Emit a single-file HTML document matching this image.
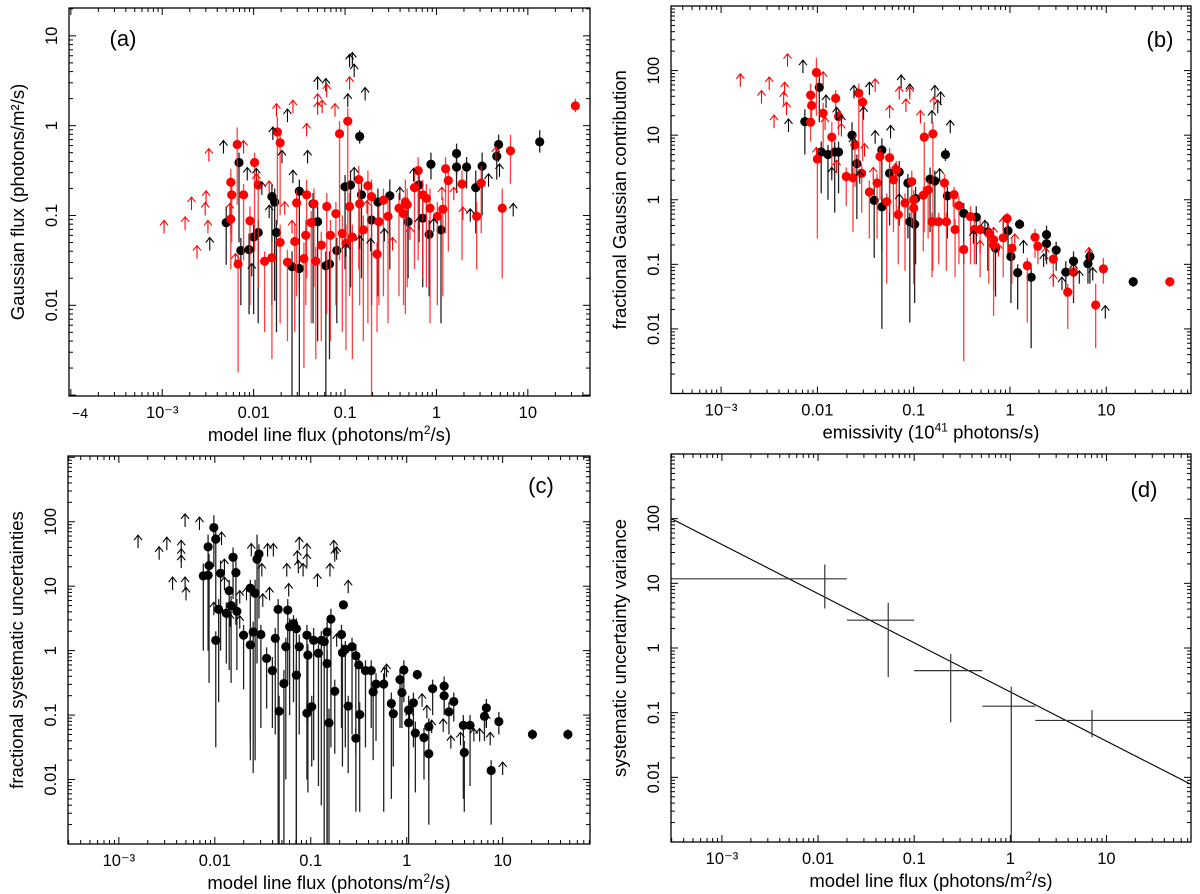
<!DOCTYPE html>
<html><head><meta charset="utf-8"><style>
html,body{margin:0;padding:0;background:#fff;}
svg{display:block;font-family:"Liberation Sans",Arial,sans-serif;}
</style></head><body>
<svg id="fig" width="1200" height="894" viewBox="0 0 1200 894" xmlns="http://www.w3.org/2000/svg"></svg>
<script>
// All values are log10 units: [x, y, yLow, yHigh]
const aRedDots = [[-2.18,-0.21,-0.88,-0.02],[-2.25,-0.63,-1.2,-0.48],[-2.24,-0.77,-1.3,-0.6],[-2.25,-1.04,-1.6,-0.9],[-2.11,-0.77,-1.5,-0.65],[-2.17,-1.54,-2.75,-1.42],[-1.99,-0.41,-1.4,-0.3],[-1.95,-0.66,-1.8,-0.52],[-2.04,-1.06,-2.0,-0.9],[-1.88,-1.51,-2.3,-1.4],[-1.80,-1.47,-2.6,-1.3],[-1.74,-0.07,-1.1,0.1],[-1.71,-0.19,-1.0,-0.05],[-1.71,-1.30,-2.2,-1.1],[-1.63,-1.52,-2.4,-1.38],[-1.55,-1.29,-2.3,-1.1],[-1.53,-0.86,-1.9,-0.72],[-1.45,-1.48,-2.7,-1.3],[-1.42,-0.77,-1.7,-0.6],[-1.43,-1.22,-2.0,-1.05],[-1.37,-1.08,-2.2,-0.95],[-1.34,-0.87,-1.8,-0.7],[-1.32,-1.51,-2.6,-1.35],[-1.26,-1.33,-2.4,-1.18],[-1.20,-0.90,-2.1,-0.75],[-1.16,-1.22,-2.4,-1.05],[-1.10,-0.98,-2.0,-0.85],[-1.06,-0.09,-1.5,0.05],[-1.03,-1.20,-2.3,-1.0],[-0.99,-1.31,-2.5,-1.1],[-0.97,0.05,-1.3,0.2],[-0.95,-0.90,-1.9,-0.75],[-0.92,-1.24,-2.6,-1.1],[-0.85,-0.60,-1.6,-0.45],[-0.84,-0.87,-2.0,-0.7],[-0.80,-1.16,-2.4,-1.0],[-0.75,-0.67,-2.2,-0.5],[-0.71,-0.79,-3.1,-0.6],[-0.65,-1.43,-2.3,-1.3],[-0.63,-1.07,-2.0,-0.9],[-0.58,-0.83,-1.9,-0.7],[-0.53,-1.01,-2.2,-0.8],[-0.41,-0.92,-1.9,-0.75],[-0.36,-0.98,-2.0,-0.8],[-0.32,-0.88,-1.8,-0.7],[-0.24,-0.69,-1.6,-0.5],[-0.20,-0.50,-1.5,-0.35],[-0.15,-0.77,-1.7,-0.6],[-0.11,-0.81,-1.8,-0.65],[0.01,-1.01,-2.0,-0.85],[0.07,-0.93,-1.9,-0.8],[0.10,-0.48,-1.2,-0.35],[0.13,-0.61,-1.4,-0.45],[0.28,-0.65,-1.5,-0.5],[0.44,-1.01,-1.6,-0.85],[0.49,-0.64,-1.2,-0.45],[0.72,-0.92,-1.7,-0.7],[0.81,-0.28,-0.65,-0.1],[1.52,0.22,0.15,0.3],[-0.34,-0.85,-2.1,-0.6],[-0.07,-0.92,-2.2,-0.7]];
const aBlackDots = [[-2.30,-1.08,-1.55,-0.9],[-2.16,-0.41,-1.3,-0.3],[-2.14,-1.39,-2.0,-1.25],[-2.05,-1.38,-2.1,-1.2],[-2.0,-1.24,-2.1,-1.1],[-1.95,-1.19,-2.2,-1.05],[-1.80,-0.79,-2.0,-0.65],[-1.77,-0.85,-1.95,-0.7],[-1.75,-1.19,-2.3,-1.05],[-1.58,-1.57,-3.2,-1.4],[-1.50,-0.73,-1.8,-0.6],[-1.50,-1.59,-3.1,-1.45],[-1.35,-0.87,-2.2,-0.75],[-1.30,-1.07,-2.4,-0.9],[-1.21,-1.56,-3.1,-1.4],[-1.17,-1.54,-2.6,-1.4],[-1.09,-1.39,-2.2,-1.25],[-1.0,-0.68,-1.6,-0.55],[-0.94,-0.66,-1.8,-0.5],[-0.84,-0.12,-0.2,-0.05],[-0.82,-0.77,-1.7,-0.6],[-0.71,-1.05,-2.0,-0.9],[-0.64,-0.85,-1.9,-0.7],[-0.51,-0.78,-1.6,-0.6],[-0.31,-1.07,-1.7,-0.9],[-0.19,-0.66,-1.3,-0.5],[-0.15,-1.03,-1.8,-0.85],[-0.08,-1.21,-1.9,-1.05],[-0.06,-0.43,-0.6,-0.3],[0.05,-1.16,-2.2,-1.0],[0.22,-0.31,-0.55,-0.2],[0.22,-0.46,-0.75,-0.3],[0.33,-0.46,-0.7,-0.35],[0.43,-0.69,-1.2,-0.5],[0.50,-0.45,-1.0,-0.3],[0.66,-0.34,-0.6,-0.2],[0.68,-0.21,-0.4,-0.1],[1.13,-0.18,-0.3,-0.05]];
const aRedArrows = [[-2.98,-1.20],[-2.75,-1.16],[-2.68,-0.94],[-2.62,-1.48],[-2.53,-1.0],[-2.52,-0.87],[-2.50,-1.20],[-2.49,-0.40],[-2.26,-1.01],[-2.20,-1.57],[-2.11,-0.31],[-1.97,-0.68],[-1.75,0.10],[-1.57,0.14],[-1.42,-0.12],[-1.30,0.21],[-1.30,0.12],[-1.25,0.14],[-1.20,0.32],[-1.11,0.10],[-0.95,0.40],[-1.66,-0.99],[-1.58,-1.20],[-0.48,-1.39],[0.19,-0.83],[0.29,-1.05],[0.65,-0.38],[-0.29,-1.27],[-0.76,-0.98],[-1.83,-0.76],[0.06,-0.83]];
const aBlackArrows = [[-2.48,-1.39],[-2.33,-0.31],[-2.07,-0.61],[-2.02,-1.68],[-1.97,-0.62],[-1.91,-0.77],[-1.79,-0.16],[-1.69,-0.42],[-1.63,0.04],[-1.57,-0.64],[-1.41,-0.42],[-1.30,0.40],[-1.21,0.38],[-0.97,0.21],[-0.95,0.65],[-0.92,0.67],[-0.90,0.54],[-0.78,0.28],[-0.90,-0.61],[-0.84,-1.37],[-0.72,-1.40],[-0.57,-1.29],[-0.40,-0.83],[-0.19,-1.16],[-0.03,-1.18],[0.37,-1.07],[0.57,-0.68],[0.69,-0.57],[0.84,-1.01],[-0.25,-0.62],[-0.99,-1.46],[-1.83,-1.03]];

const bRedDots = [[-2.01,1.97,1.3,2.2],[-2.07,1.62,1.4,1.8],[-2.06,1.46,1.2,1.6],[-2.07,1.20,0.9,1.4],[-1.94,1.34,0.8,1.5],[-1.81,1.57,1.3,1.7],[-1.78,1.29,1.0,1.4],[-1.85,0.97,0.4,1.2],[-2.0,0.63,-0.6,0.8],[-1.57,1.65,0.5,1.8],[-1.53,1.51,0.6,1.6],[-1.61,0.85,0.2,1.0],[-1.70,0.36,-0.1,0.5],[-1.63,0.34,-0.5,0.5],[-1.54,0.41,-0.2,0.55],[-1.46,0.12,-0.6,0.3],[-1.38,0.26,-0.6,0.4],[-1.35,0.67,0.0,0.8],[-1.25,0.65,-0.2,0.8],[-1.28,-0.03,-1.3,0.1],[-1.18,0.46,-0.3,0.6],[-1.16,-0.23,-1.0,-0.1],[-1.09,-0.05,-1.1,0.1],[-1.02,0.28,-0.4,0.45],[-1.0,-0.13,-1.3,0.0],[-0.89,0.97,-0.5,1.2],[-0.80,1.02,-1.1,1.2],[-0.90,0.07,-0.8,0.2],[-0.85,0.15,-0.6,0.3],[-0.81,-0.34,-1.2,-0.2],[-0.74,-0.34,-1.0,-0.2],[-0.68,0.26,-0.3,0.4],[-0.66,-0.34,-1.1,-0.2],[-0.58,0.08,-0.5,0.2],[-0.53,-0.09,-1.0,0.05],[-0.57,-0.46,-1.2,-0.3],[-0.48,-0.77,-2.5,-0.65],[-0.41,-0.26,-1.0,-0.1],[-0.37,-0.46,-1.0,-0.3],[-0.22,-0.52,-1.3,-0.4],[-0.17,-0.62,-1.4,-0.5],[-0.03,-0.29,-0.6,-0.2],[-0.07,-0.59,-1.2,-0.45],[0.02,-0.75,-1.3,-0.6],[0.18,-1.02,-1.9,-0.9],[0.26,-0.58,-0.9,-0.45],[0.29,-0.72,-1.0,-0.6],[0.45,-0.92,-1.3,-0.8],[0.60,-1.43,-2.0,-1.3],[0.66,-1.12,-1.5,-1.0],[0.89,-1.63,-2.3,-1.3],[0.97,-1.07,-1.3,-0.9],[-1.21,0.31,-0.5,0.45],[-1.0,0.0,-1.0,0.15],[-0.17,-0.70,-1.8,-0.6],[-0.31,-0.46,-1.2,-0.3],[1.66,-1.27,-1.35,-1.2]];
const bBlackDots = [[-2.13,1.21,0.7,1.4],[-1.98,1.74,1.2,1.9],[-1.96,0.74,0.1,0.9],[-1.89,0.70,0.0,0.85],[-1.82,0.74,-0.2,0.9],[-1.78,0.74,0.1,0.9],[-1.64,1.0,0.4,1.2],[-1.59,0.56,-0.3,0.7],[-1.41,-0.01,-0.9,0.2],[-1.33,0.77,-0.8,0.95],[-1.33,-0.11,-2.0,0.05],[-1.25,0.41,-0.4,0.55],[-1.15,0.43,-0.4,0.6],[-1.06,0.26,-0.6,0.4],[-1.04,-0.34,-1.9,-0.2],[-0.99,-0.38,-1.6,-0.2],[-0.98,0.02,-1.0,0.2],[-0.83,0.32,-0.5,0.5],[-0.78,0.29,-0.4,0.45],[-0.67,0.70,0.6,0.8],[-0.65,0.06,-0.6,0.2],[-0.48,-0.21,-1.0,-0.05],[-0.35,-0.27,-1.0,-0.1],[-0.23,-0.50,-1.1,-0.35],[-0.15,-0.75,-1.5,-0.6],[-0.02,-0.48,-0.9,-0.3],[0.01,-0.88,-1.6,-0.7],[0.08,-1.13,-1.7,-1.0],[0.10,-0.38,-0.45,-0.3],[0.22,-1.20,-2.3,-1.05],[0.38,-0.54,-0.8,-0.4],[0.38,-0.68,-1.0,-0.55],[0.48,-0.78,-1.1,-0.65],[0.58,-1.12,-1.5,-0.95],[0.66,-0.95,-1.6,-0.8],[0.81,-0.99,-1.3,-0.8],[0.83,-0.88,-1.3,-0.75],[1.28,-1.27,-1.35,-1.2]];
const bRedArrows = [[-2.80,1.75],[-2.58,1.49],[-2.50,1.70],[-2.45,1.11],[-2.35,1.47],[-2.34,1.62],[-2.31,2.06],[-2.32,1.31],[-1.94,1.78],[-1.92,1.08],[-1.75,0.98],[-1.40,1.67],[-1.25,1.26],[-1.15,1.55],[-1.08,1.36],[-1.04,1.55],[-0.93,1.18],[-0.79,1.39],[-2.01,0.61],[-1.80,0.41],[-1.51,0.67],[-1.42,0.30],[-1.19,0.36],[-0.59,-0.11],[-0.31,-0.83],[-0.12,-0.88],[0.05,-0.73],[0.37,-0.94],[0.45,-1.35],[0.82,-0.94],[-0.17,-0.63],[-0.07,-0.47]];
const bBlackArrows = [[-2.15,1.96],[-2.30,1.05],[-1.91,1.42],[-1.80,1.23],[-1.75,1.11],[-1.62,1.57],[-1.52,1.24],[-1.46,1.62],[-1.40,0.87],[-1.24,0.95],[-1.13,1.73],[-1.04,1.59],[-0.81,1.18],[-0.78,1.57],[-0.75,1.34],[-0.72,1.47],[-0.62,1.03],[-1.63,0.77],[-1.56,0.25],[-1.85,0.30],[-0.73,0.28],[-0.38,-0.68],[-0.26,-0.52],[-0.07,-0.47],[0.14,-0.83],[0.35,-1.04],[0.54,-1.40],[0.72,-1.30],[0.86,-1.25],[0.99,-1.84],[0.66,-1.19],[-1.15,-0.11]];

const cDots = [[-2.01,1.91,1.3,2.1],[-1.99,1.73,0.6,1.9],[-2.07,1.61,0.0,1.8],[-2.06,1.32,-0.5,1.5],[-2.12,1.16,0.0,1.35],[-2.07,1.17,0.2,1.35],[-1.99,0.16,-1.5,0.3],[-1.96,0.64,-0.8,0.8],[-1.94,1.20,0.0,1.4],[-1.88,0.58,-0.2,0.75],[-1.85,0.93,-0.3,1.1],[-1.83,0.70,-0.5,0.85],[-1.81,1.45,0.8,1.6],[-1.78,1.21,0.4,1.4],[-1.77,0.61,-0.3,0.8],[-1.70,0.24,-0.6,0.4],[-1.63,0.97,-1.4,1.1],[-1.63,0.09,-1.7,0.3],[-1.60,0.29,-1.9,0.45],[-1.58,0.89,-1.7,1.1],[-1.56,1.42,-0.2,1.8],[-1.54,1.50,0.5,1.65],[-1.52,0.25,-1.2,0.4],[-1.46,-0.12,-0.9,0.05],[-1.40,-0.31,-1.2,-0.1],[-1.37,0.19,-1.3,0.35],[-1.34,0.64,-3.0,0.8],[-1.33,-0.94,-3.0,-0.7],[-1.28,-0.51,-3.0,-0.3],[-1.26,0.06,-2.0,0.2],[-1.24,0.63,-0.5,0.8],[-1.22,0.37,-1.0,0.5],[-1.18,0.42,-0.8,0.55],[-1.15,0.34,-3.0,0.5],[-1.15,-0.38,-3.0,-0.2],[-1.12,0.06,-1.3,0.25],[-1.04,0.24,-1.1,0.4],[-1.04,-0.97,-2.0,-0.8],[-1.03,-0.07,-2.2,0.1],[-0.99,-0.87,-1.8,-0.7],[-0.97,0.16,-1.7,0.35],[-0.92,-0.04,-2.1,0.1],[-0.89,0.16,-2.4,0.3],[-0.86,0.14,-3.0,0.3],[-0.83,-0.20,-3.0,0.0],[-0.81,-1.12,-3.0,-0.9],[-0.79,0.49,-1.5,0.65],[-0.83,0.29,-3.0,0.45],[-0.75,-0.63,-1.6,-0.45],[-0.68,0.25,-1.2,0.4],[-0.67,-0.03,-1.8,0.1],[-0.66,0.71,0.65,0.77],[-0.64,0.02,-1.5,0.15],[-0.61,-0.86,-1.9,-0.7],[-0.57,0.06,-1.3,0.2],[-0.53,-1.36,-2.5,-1.2],[-0.53,-0.08,-1.6,0.1],[-0.50,-0.22,-1.3,-0.05],[-0.49,-0.99,-2.5,-0.8],[-0.43,-0.31,-1.5,-0.15],[-0.37,-0.31,-1.2,-0.15],[-0.35,-0.64,-1.7,-0.5],[-0.32,-0.52,-1.4,-0.35],[-0.24,-0.52,-2.5,-0.35],[-0.16,-0.82,-2.3,-0.65],[-0.14,-0.98,-1.8,-0.8],[-0.07,-0.45,-1.2,-0.3],[-0.05,-0.65,-1.2,-0.5],[-0.03,-0.30,-0.8,-0.15],[0.02,-0.92,-3.0,-0.7],[0.02,-1.12,-2.0,-0.95],[0.07,-0.81,-1.5,-0.65],[0.09,-1.28,-2.2,-1.1],[0.11,-0.37,-0.45,-0.3],[0.18,-1.35,-2.0,-1.2],[0.23,-1.60,-2.7,-1.45],[0.23,-1.18,-2.0,-1.05],[0.27,-0.59,-1.0,-0.45],[0.39,-0.55,-0.9,-0.4],[0.39,-0.70,-1.0,-0.55],[0.44,-0.95,-1.3,-0.8],[0.49,-0.79,-1.1,-0.65],[0.59,-1.16,-2.3,-1.0],[0.60,-1.58,-2.5,-1.4],[0.66,-1.16,-2.1,-1.0],[0.81,-1.02,-1.4,-0.85],[0.83,-0.89,-1.2,-0.75],[0.88,-1.86,-2.7,-1.7],[0.96,-1.10,-1.3,-0.95],[1.31,-1.30,-1.38,-1.22],[1.68,-1.30,-1.38,-1.22]];
const cArrows = [[-2.80,1.59],[-2.58,1.41],[-2.50,1.56],[-2.44,0.94],[-2.35,1.51],[-2.35,1.38],[-2.35,1.28],[-2.31,1.92],[-2.31,0.94],[-2.30,0.78],[-2.16,1.87],[-1.93,1.64],[-1.90,1.22],[-1.62,1.46],[-1.51,1.15],[-1.45,1.46],[-1.39,1.46],[-1.25,1.15],[-1.23,0.84],[-1.12,1.56],[-1.14,1.35],[-1.13,1.20],[-1.04,1.46],[-1.04,1.30],[-1.08,1.15],[-0.93,0.99],[-0.76,1.51],[-0.75,1.38],[-0.73,1.41],[-0.80,1.15],[-0.61,0.89],[-2.01,0.55],[-1.90,0.94],[-1.74,0.73],[-1.67,0.78],[-1.50,0.68],[-1.43,0.78],[-1.74,0.34],[-1.84,0.37],[-0.73,0.06],[-0.21,-0.41],[-0.23,-0.46],[0.16,-0.87],[0.21,-1.05],[0.26,-1.28],[0.38,-1.26],[0.46,-1.52],[0.56,-1.47],[0.70,-1.41],[0.76,-1.41],[0.83,-1.18],[0.87,-1.47],[1.0,-1.93],[0.03,-1.13]];

// panel d bins (log10)
const dBinX = [-1.93,-1.27,-0.62,0.01,0.85];
const dBinXLo = [-3.6,-1.70,-1.0,-0.29,0.26];
const dBinXHi = [-1.70,-1.0,-0.29,0.26,1.95];
const dBinY = [1.07,0.43,-0.35,-0.90,-1.12];
const dBinYLo = [0.61,-0.45,-1.15,-3.1,-1.38];
const dBinYHi = [1.29,0.70,-0.09,-0.60,-0.96];
const dFitIntercept = -0.68, dFitSlope = -0.76;

const xTickLabels = ["10\u207B\u00B3","0.01","0.1","1","10"];
const xTickLogs = [-3,-2,-1,0,1];
const yTickLabelsA = ["0.01","0.1","1","10"];
const yTickLogsA = [-2,-1,0,1];
const yTickLabelsB = ["0.01","0.1","1","10","100"];
const yTickLogsB = [-2,-1,0,1,2];

const NS = "http://www.w3.org/2000/svg";
const svg = document.getElementById("fig");
function mk(tag, attrs, parent){
  const e = document.createElementNS(NS, tag);
  for (const k in attrs) e.setAttribute(k, attrs[k]);
  (parent||svg).appendChild(e);
  return e;
}
function panel(P){
  P.sx = v => P.L + (v - P.xmin) / (P.xmax - P.xmin) * (P.R - P.L);
  P.sy = v => P.B - (v - P.ymin) / (P.ymax - P.ymin) * (P.B - P.T);
  const g = mk("g", {});
  
  
  P.g = g;
  const clip = mk("clipPath", {id: "clip-" + P.id}, g);
  mk("rect", {x: P.L, y: P.T, width: P.R - P.L, height: P.B - P.T}, clip);
  P.plot = mk("g", {"clip-path": "url(#clip-" + P.id + ")"}, g);
  
  
  const frame = mk("rect", {x: P.L, y: P.T, width: P.R - P.L, height: P.B - P.T, fill: "none", stroke: "#000", "stroke-width": 1.3}, g);
  
  
  const tk = mk("g", {stroke: "#000", "stroke-width": 1}, g);
  
  
  for (let d = Math.floor(P.xmin); d <= Math.ceil(P.xmax); d++) {
    for (let m = 1; m <= 9; m++) {
      const v = d + Math.log10(m);
      if (v < P.xmin || v > P.xmax) continue;
      const x = P.sx(v), len = m === 1 ? 7 : 4;
      mk("line", {x1: x, x2: x, y1: P.B, y2: P.B - len}, tk);
      mk("line", {x1: x, x2: x, y1: P.T, y2: P.T + len}, tk);
    }
  }
  for (let d = Math.floor(P.ymin); d <= Math.ceil(P.ymax); d++) {
    for (let m = 1; m <= 9; m++) {
      const v = d + Math.log10(m);
      if (v < P.ymin || v > P.ymax) continue;
      const y = P.sy(v), len = m === 1 ? 7 : 4;
      mk("line", {x1: P.L, x2: P.L + len, y1: y, y2: y}, tk);
      mk("line", {x1: P.R, x2: P.R - len, y1: y, y2: y}, tk);
    }
  }
  xTickLogs.forEach((v, i) => {
    const t = mk("text", {x: P.sx(v), y: P.B + 22, "font-size": 16.5, "text-anchor": "middle"}, g);
    t.textContent = xTickLabels[i];
    
    
  });
  P.yLogs.forEach((v, i) => {
    const x = P.L - 12, y = P.sy(v);
    const t = mk("text", {x: x, y: y, "font-size": 16.5, "text-anchor": "middle", transform: "rotate(-90 " + x + " " + y + ")"}, g);
    t.textContent = P.yLabels[i];
    
    
  });
  const xt = mk("text", {x: (P.L + P.R) / 2, y: P.B + 45, "font-size": 18.5, "text-anchor": "middle"}, g);
  xt.innerHTML = P.xTitle;
  
  
  const yx = P.L - 45, yy = (P.T + P.B) / 2;
  const yt = mk("text", {x: yx, y: yy, "font-size": 18.5, "text-anchor": "middle", transform: "rotate(-90 " + yx + " " + yy + ")"}, g);
  yt.textContent = P.yTitle;
  
  
  const pl = mk("text", {x: P.lx, y: P.ly, "font-size": 22, "text-anchor": "middle"}, g);
  pl.textContent = P.label;
  
  
  return P;
}
function dots(P, data, color, barColor, name){
  const g = mk("g", {}, P.plot);
  
  
  data.forEach(d => {
    const x = P.sx(d[0]);
    const bar = mk("line", {x1: x, x2: x, y1: P.sy(d[2]), y2: P.sy(d[3]), stroke: barColor, "stroke-width": 1.3}, g);
    
    
  });
  data.forEach(d => {
    const c = mk("circle", {cx: P.sx(d[0]), cy: P.sy(d[1]), r: 4.6, fill: color}, g);
    
    
  });
}
function arrows(P, data, color, name){
  const g = mk("g", {stroke: color, "stroke-width": 1.1, fill: "none"}, P.plot);
  
  
  data.forEach(d => {
    const x = P.sx(d[0]), y = P.sy(d[1]);
    const a = mk("path", {d: "M" + x + " " + y + "V" + (y - 13) + "M" + (x - 4) + " " + (y - 8) + "L" + x + " " + (y - 13) + "L" + (x + 4) + " " + (y - 8)}, g);
    
    
  });
}
const fluxTitle = 'model line flux (photons/m<tspan baseline-shift="super" font-size="12">2</tspan>/s)';
const A = panel({id: "a", name: "panel-a", L: 69, R: 590, T: 8, B: 396, xmin: -4.02, xmax: 1.68, ymin: -3.01, ymax: 1.31,
  yLogs: yTickLogsA, yLabels: yTickLabelsA, xTitle: fluxTitle, yTitle: "Gaussian flux (photons/m\u00B2/s)", label: "(a)", lx: 123, ly: 46});
const t4 = mk("text", {x: 80, y: 418, "font-size": 14, "text-anchor": "middle"}, A.g);
t4.textContent = "\u22124";


dots(A, aBlackDots, "#000", "#222", "black-points");
dots(A, aRedDots, "#f00", "rgba(255,30,30,0.85)", "red-points");
arrows(A, aBlackArrows, "#000", "black-lower-limits");
arrows(A, aRedArrows, "#f00", "red-lower-limits");

const Bp = panel({id: "b", name: "panel-b", L: 671, R: 1191, T: 6, B: 393.5, xmin: -3.52, xmax: 1.88, ymin: -3, ymax: 3,
  yLogs: yTickLogsB, yLabels: yTickLabelsB, xTitle: 'emissivity (10<tspan baseline-shift="super" font-size="12">41</tspan> photons/s)', yTitle: "fractional Gaussian contribution", label: "(b)", lx: 1160, ly: 47});
dots(Bp, bBlackDots, "#000", "#222", "black-points");
dots(Bp, bRedDots, "#f00", "rgba(255,30,30,0.85)", "red-points");
arrows(Bp, bBlackArrows, "#000", "black-lower-limits");
arrows(Bp, bRedArrows, "#f00", "red-lower-limits");

const C = panel({id: "c", name: "panel-c", L: 68, R: 590, T: 456, B: 844, xmin: -3.53, xmax: 1.91, ymin: -3, ymax: 3.02,
  yLogs: yTickLogsB, yLabels: yTickLabelsB, xTitle: fluxTitle, yTitle: "fractional systematic uncertainties", label: "(c)", lx: 541, ly: 493});
dots(C, cDots, "#000", "#222", "black-points");
arrows(C, cArrows, "#000", "lower-limits");

const D = panel({id: "d", name: "panel-d", L: 671, R: 1191, T: 454, B: 842, xmin: -3.53, xmax: 1.88, ymin: -3, ymax: 3,
  yLogs: yTickLogsB, yLabels: yTickLabelsB, xTitle: fluxTitle, yTitle: "systematic uncertainty variance", label: "(d)", lx: 1144, ly: 497});
const fit = mk("line", {x1: D.sx(D.xmin), y1: D.sy(dFitIntercept + dFitSlope * D.xmin), x2: D.sx(D.xmax), y2: D.sy(dFitIntercept + dFitSlope * D.xmax), stroke: "#000", "stroke-width": 1.1}, D.plot);


dBinX.forEach((v, i) => {
  const h = mk("line", {x1: D.sx(dBinXLo[i]), x2: D.sx(dBinXHi[i]), y1: D.sy(dBinY[i]), y2: D.sy(dBinY[i]), stroke: "#333", "stroke-width": 1.2}, D.plot);
  
  
  const vl = mk("line", {x1: D.sx(v), x2: D.sx(v), y1: D.sy(dBinYLo[i]), y2: D.sy(dBinYHi[i]), stroke: "#333", "stroke-width": 1.2}, D.plot);
  
  
});
</script>
</body></html>
